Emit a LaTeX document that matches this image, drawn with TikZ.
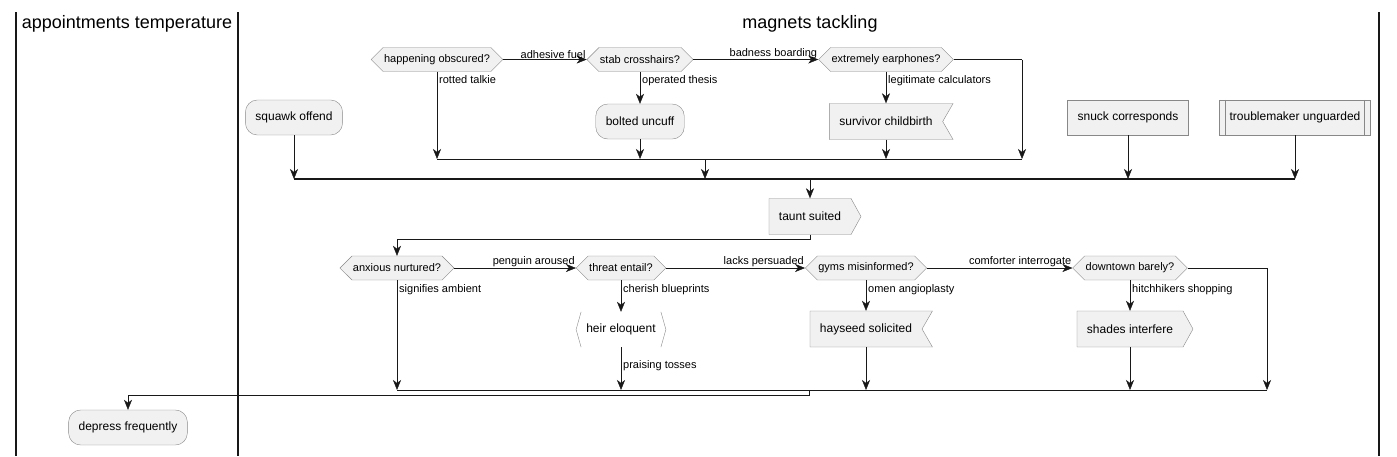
\documentclass[tikz,border=0pt]{standalone}
\usepackage{fontspec}
\setmainfont{Liberation Sans}
\usetikzlibrary{arrows.meta,shapes.symbols,calc}
\definecolor{boxfill}{HTML}{F1F1F1}
\definecolor{boxline}{HTML}{888888}
\definecolor{ink}{HTML}{181818}
\tikzstyle{activity} = [draw=boxline, fill=boxfill, rectangle, rounded corners=12pt,
    minimum height=35pt, inner xsep=10pt, font=\fontsize{12}{14}\selectfont]
\tikzstyle{task} = [draw=boxline, fill=boxfill, rectangle,
    minimum height=35pt, inner xsep=10pt, font=\fontsize{12}{14}\selectfont]
\tikzstyle{sendbox} = [draw=boxline, fill=boxfill, signal, signal to=east,
    signal pointer angle=122, minimum height=36pt, inner xsep=10pt, font=\fontsize{12}{14}\selectfont]
\tikzstyle{recvbox} = [draw=boxline, fill=boxfill, signal, signal from=east, signal to=nowhere,
    signal pointer angle=120, minimum height=36pt, inner xsep=10pt, font=\fontsize{12}{14}\selectfont]
\tikzstyle{plainbox} = [rectangle, minimum height=35pt, inner xsep=10pt, font=\fontsize{12}{14}\selectfont]
\tikzstyle{choice} = [draw=boxline, fill=boxfill, signal, signal to=west and east,
    signal pointer angle=90, minimum height=24pt, inner xsep=1pt, font=\fontsize{11}{13}\selectfont]
\tikzstyle{elabel} = [font=\fontsize{11}{13}\selectfont, inner sep=1pt]
\tikzstyle{dlabel} = [elabel, anchor=north west, yshift=-3pt, xshift=1pt]
\tikzstyle{lanetitle} = [font=\fontsize{18}{22}\selectfont]
\tikzstyle{flow} = [draw=ink, -{Stealth[length=10pt,width=8pt,inset=3pt]}]
\tikzstyle{wire} = [draw=ink]
\tikzstyle{forkbar} = [draw=ink, line width=1.6pt]
\tikzstyle{lane} = [draw=ink, line width=1.5pt]
\begin{document}
\begin{tikzpicture}[x=1pt, y=-1pt]
\useasboundingbox (0,0) rectangle (1397,456);
% Lanes
	\draw[lane] (16,12) -- (16,456);
	\draw[lane] (238,12) -- (238,456);
	\draw[lane] (1379,12) -- (1379,456);
	\node[lanetitle] (t1) at (127,24) {appointments temperature};
	\node[lanetitle] (t2) at (810,24) {magnets tackling};
% Nodes
	\node[choice] (hap) at (437,59.5) {happening obscured?};
	\node[choice] (stab) at (640,59.5) {stab crosshairs?};
	\node[choice] (ext) at (886,59.5) {extremely earphones?};
	\node[activity] (bolt) at (640,121.5) {bolted uncuff};
	\node[recvbox] (surv) at (886,121.5) {survivor childbirth};
	\node[activity] (squawk) at (294,117.5) {squawk offend};
	\node[task] (snuck) at (1128,117.5) {snuck corresponds};
	\node[task] (trouble) at (1295,117.5) {troublemaker unguarded};
	\node[sendbox] (taunt) at (810,216.5) {taunt suited};
	\node[choice] (anx) at (397,268) {anxious nurtured?};
	\node[choice] (threat) at (621,268) {threat entail?};
	\node[choice] (gyms) at (866,268) {gyms misinformed?};
	\node[choice] (down) at (1130,268) {downtown barely?};
	\node[plainbox] (heir) at (621,329.5) {heir eloquent};
	\node[recvbox] (hay) at (866,329) {hayseed solicited};
	\node[sendbox] (shades) at (1130,329) {shades interfere};
	\node[activity] (depress) at (128,427.5) {depress frequently};
% Decorations of special boxes
	\draw[boxline] ($(heir.north west)+(5,0)$) -- (heir.west) -- ($(heir.south west)+(5,0)$);
	\draw[boxline] ($(heir.north east)+(-5,0)$) -- (heir.east) -- ($(heir.south east)+(-5,0)$);
	\draw[boxline] ($(trouble.north west)+(6,0)$) -- ($(trouble.south west)+(6,0)$);
	\draw[boxline] ($(trouble.north east)+(-6,0)$) -- ($(trouble.south east)+(-6,0)$);
% Junctions
	\coordinate (j1) at (705,159);
	\coordinate (bar) at (810,179);
	\coordinate (extr) at (1022,59.5);
	\coordinate (tx) at (810,239);
	\coordinate (downr) at (1267,268);
	\coordinate (j2) at (809,390);
	\coordinate (jx) at (809,395);
% Connections
	\draw[flow] (hap.east) -- node[elabel, pos=1, anchor=south east] {adhesive fuel} (stab.west);
	\draw[flow] (stab.east) -- node[elabel, pos=1, anchor=south east] {badness boarding} (ext.west);
	\draw[wire] (ext.east) -- (extr);
	\draw[flow] (hap.south) -- node[dlabel, pos=0] {rotted talkie} (hap.south |- j1);
	\draw[flow] (stab.south) -- node[dlabel, pos=0] {operated thesis} (bolt.north);
	\draw[flow] (ext.south) -- node[dlabel, pos=0] {legitimate calculators} (surv.north);
	\draw[flow] (bolt.south) -- (bolt.south |- j1);
	\draw[flow] (surv.south) -- (surv.south |- j1);
	\draw[flow] (extr) -- (extr |- j1);
	\draw[wire] (hap.south |- j1) -- (extr |- j1);
	\draw[flow] (j1) -- (j1 |- bar);
	\draw[flow] (squawk.south) -- (squawk.south |- bar);
	\draw[flow] (snuck.south) -- (snuck.south |- bar);
	\draw[flow] (trouble.south) -- (trouble.south |- bar);
	\draw[forkbar] (squawk.south |- bar) -- (trouble.south |- bar);
	\draw[flow] (bar) -- (taunt.north);
	\draw[flow] (taunt.south) -- (tx) -| (anx.north);
	\draw[flow] (anx.east) -- node[elabel, pos=1, anchor=south east] {penguin aroused} (threat.west);
	\draw[flow] (threat.east) -- node[elabel, pos=1, anchor=south east] {lacks persuaded} (gyms.west);
	\draw[flow] (gyms.east) -- node[elabel, pos=1, anchor=south east] {comforter interrogate} (down.west);
	\draw[wire] (down.east) -- (downr);
	\draw[flow] (anx.south) -- node[dlabel, pos=0] {signifies ambient} (anx.south |- j2);
	\draw[flow] (threat.south) -- node[dlabel, pos=0] {cherish blueprints} (heir.north);
	\draw[flow] (heir.south) -- node[elabel, pos=0.42, anchor=west, xshift=1pt] {praising tosses} (heir.south |- j2);
	\draw[flow] (gyms.south) -- node[dlabel, pos=0] {omen angioplasty} (hay.north);
	\draw[flow] (hay.south) -- (hay.south |- j2);
	\draw[flow] (down.south) -- node[dlabel, pos=0] {hitchhikers shopping} (shades.north);
	\draw[flow] (shades.south) -- (shades.south |- j2);
	\draw[flow] (downr) -- (downr |- j2);
	\draw[wire] (anx.south |- j2) -- (downr |- j2);
	\draw[flow] (j2) -- (jx) -| (depress.north);
\end{tikzpicture}
\end{document}
